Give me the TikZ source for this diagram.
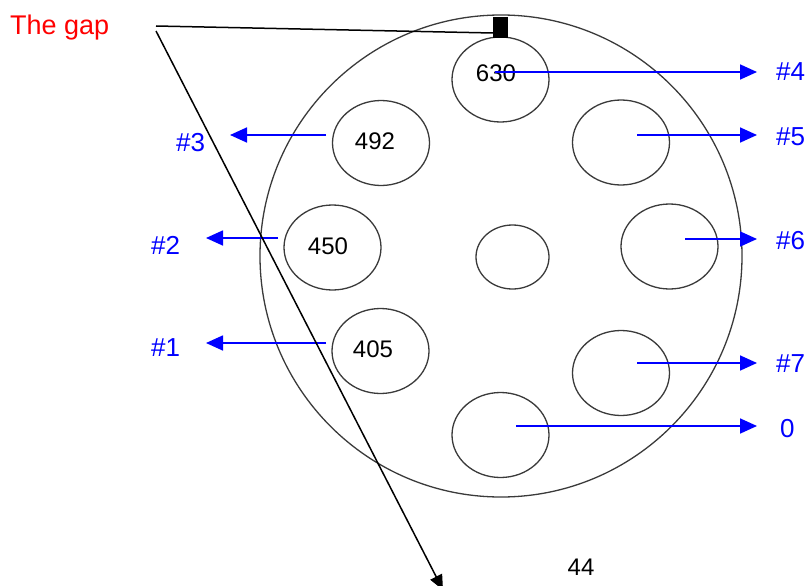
\documentclass[tikz,border=0pt]{standalone}
\usepackage{fontspec}
\setmainfont{Liberation Sans}
\usetikzlibrary{arrows.meta,shapes.geometric}
\definecolor{ringgray}{HTML}{3A3A3A}
\begin{document}
\begin{tikzpicture}[x=1pt,y=-1pt,
  hole/.style={draw=ringgray,line width=1.3pt,ellipse,inner sep=0pt,minimum width=97pt,minimum height=85pt},
  num/.style={anchor=base,inner sep=0pt,font=\fontsize{24}{24}\selectfont},
  lab/.style={anchor=base west,inner sep=0pt,text=blue,font=\fontsize{26}{26}\selectfont},
  barrow/.style={draw=blue,line width=1.7pt,-{Triangle[length=17pt,width=15pt]}},
  karrow/.style={draw=black,line width=1.5pt,-{Triangle[length=15pt,width=13pt]}}]
\useasboundingbox (0,0) rectangle (809,586);
% disc
\node[draw=ringgray,line width=1.3pt,circle,inner sep=0pt,minimum size=482pt] (disc) at (501,256) {};
% holes
\node[hole] (h630) at (500.5,79.5) {};
\node[hole] (h5) at (621,142.5) {};
\node[hole] (h492) at (381,143) {};
\node[hole] (h450) at (332.5,247.5) {};
\node[hole] (h405) at (380.5,351) {};
\node[hole,minimum width=73pt,minimum height=64pt] (hc) at (512.5,257) {};
\node[hole] (h6) at (669.5,246.5) {};
\node[hole] (h7) at (621,373) {};
\node[hole] (h0) at (500.5,435) {};
% numbers
\node[num] (n630) at (496,81.5) {630};
\node[num] (n492) at (375,149) {492};
\node[num] (n450) at (328,254) {450};
\node[num] (n405) at (373,357) {405};
\node[num] (n44) at (581,575) {44};
% gap marker
\node[fill=black,inner sep=0pt,minimum width=15pt,minimum height=21pt] (gap) at (500.5,27.5) {};
\node[anchor=base west,inner sep=0pt,text=red,font=\fontsize{27}{27}\selectfont] (gaplab) at (10,35) {The gap};
% labels
\node[lab] (l4) at (776,81) {\#4};
\node[lab] (l5) at (776,145) {\#5};
\node[lab] (l6) at (776,249) {\#6};
\node[lab] (l7) at (776,372) {\#7};
\node[lab] (l0) at (780,437) {0};
\node[lab] (l3) at (176,151) {\#3};
\node[lab] (l2) at (151,254) {\#2};
\node[lab] (l1) at (151,356) {\#1};
% arrow coordinates
\coordinate (s4) at (495,72);   \coordinate (t4) at (757,72);
\coordinate (s5) at (637,135);  \coordinate (t5) at (757,135);
\coordinate (s6) at (685,239);  \coordinate (t6) at (757,239);
\coordinate (s7) at (637,363);  \coordinate (t7) at (757,363);
\coordinate (s0) at (516,426);  \coordinate (t0) at (757,426);
\coordinate (s3) at (326,135);  \coordinate (t3) at (230,135);
\coordinate (s2) at (278,238);  \coordinate (t2) at (206,238);
\coordinate (s1) at (326,343);  \coordinate (t1) at (206,343);
\draw[barrow] (s4) -- (t4);
\draw[barrow] (s5) -- (t5);
\draw[barrow] (s6) -- (t6);
\draw[barrow] (s7) -- (t7);
\draw[barrow] (s0) -- (t0);
\draw[barrow] (s3) -- (t3);
\draw[barrow] (s2) -- (t2);
\draw[barrow] (s1) -- (t1);
% gap pointer lines
\coordinate (g1) at (156,26);
\coordinate (g1e) at (493,33);
\coordinate (g2) at (156,31);
\coordinate (g2e) at (443,590);
\draw[black,line width=1.5pt] (g1) -- (g1e);
\draw[karrow] (g2) -- (g2e);
\end{tikzpicture}
\end{document}
